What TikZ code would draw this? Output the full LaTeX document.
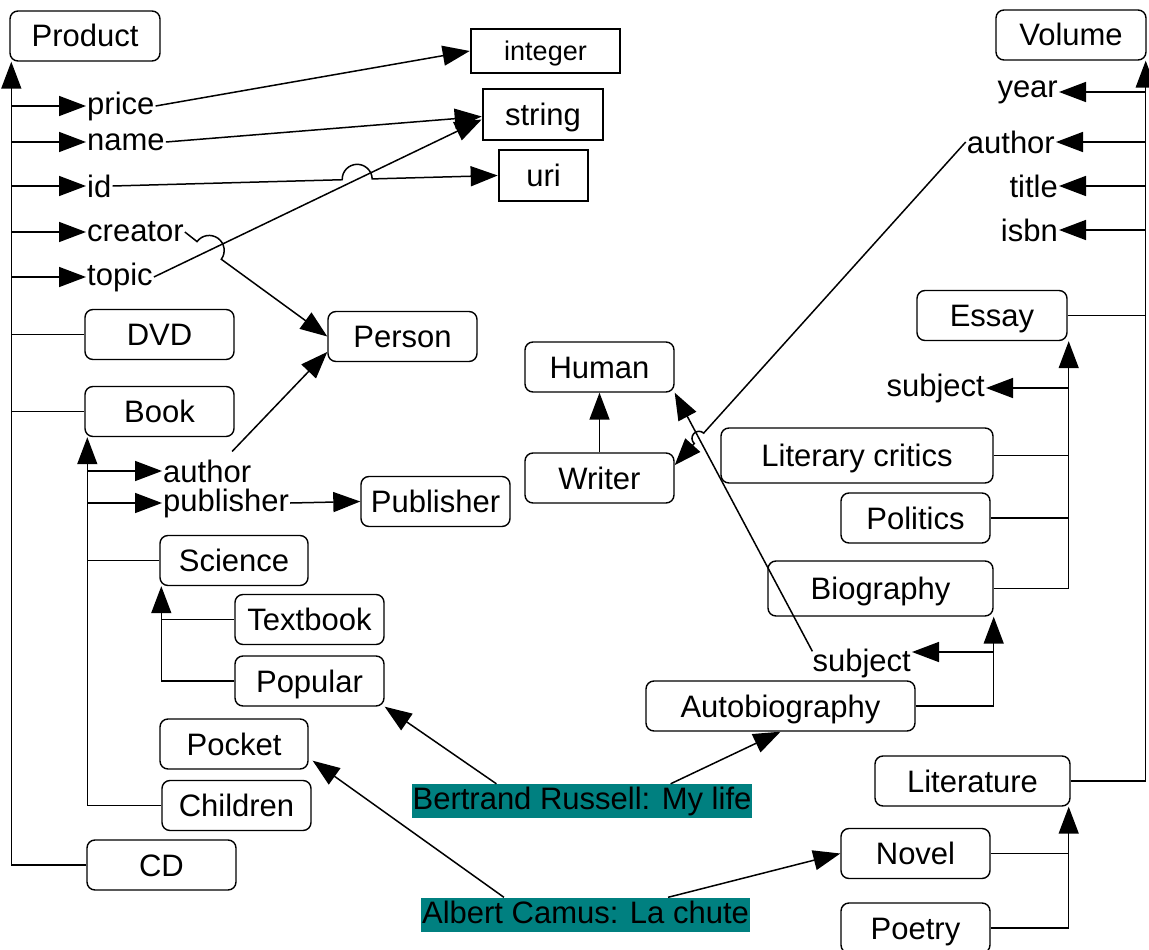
\documentclass[tikz,border=0pt]{standalone}
\usepackage{fontspec}
\setmainfont{Liberation Sans}
\usetikzlibrary{arrows.meta,calc,intersections}
\definecolor{hlteal}{RGB}{0,128,128}

\begin{document}
\begin{tikzpicture}[x=1pt,y=-1pt,
  every node/.style={font=\fontsize{31}{37}\selectfont},
  cls/.style={draw, rounded corners=8pt, line width=1.4pt, minimum width=149pt,
    minimum height=50pt, inner sep=0pt, text height=22pt, text depth=0pt},
  dtype/.style={draw, line width=2.6pt, minimum height=51pt, inner sep=0pt,
    text height=21pt, text depth=0pt},
  prop/.style={inner sep=0pt},
  inst/.style={fill=hlteal, inner xsep=1pt, inner ysep=1.5pt,
    text height=24pt, text depth=7pt},
  link/.style={line width=1.5pt},
  arr/.style={link, -{Triangle[length=27pt,width=20pt]}},
]
\useasboundingbox (0,0) rectangle (1149,950);

% ---- classes ----
\node[cls, minimum width=150pt] (Product) at (85,36) {Product};
\node[cls] (DVD) at (159.5,334.5) {DVD};
\node[cls] (Book) at (159.5,411.5) {Book};
\node[cls] (CD) at (161.5,865) {CD};
\node[cls] (Person) at (402.5,336.5) {Person};
\node[cls] (Publisher) at (435.5,501.5) {Publisher};
\node[cls, minimum width=148pt] (Science) at (234,560.5) {Science};
\node[cls] (Textbook) at (309.5,619.5) {Textbook};
\node[cls] (Popular) at (309.5,681) {Popular};
\node[cls, minimum width=148pt] (Pocket) at (234,744) {Pocket};
\node[cls] (Children) at (236.5,805.5) {Children};
\node[cls] (Human) at (599.5,367) {Human};
\node[cls] (Writer) at (599.5,478) {Writer};
\node[cls, minimum width=150pt] (Volume) at (1071,35) {Volume};
\node[cls, minimum width=150pt] (Essay) at (992,315.5) {Essay};
\node[cls, minimum width=272pt, minimum height=55pt] (LitCrit) at (857,455.5) {Literary critics};
\node[cls] (Politics) at (915.5,518) {Politics};
\node[cls, minimum width=225pt, minimum height=55pt] (Biography) at (880.5,588.5) {Biography};
\node[cls, minimum width=269pt] (Autobio) at (780.5,706) {Autobiography};
\node[cls, minimum width=195pt] (Literature) at (972.5,781) {Literature};
\node[cls] (Novel) at (915.5,853.5) {Novel};
\node[cls] (Poetry) at (915.5,928) {Poetry};

% ---- datatypes ----
\node[dtype, minimum width=149pt, minimum height=44pt, font=\fontsize{27}{32}\selectfont,
  text height=19pt] (integer) at (545.5,51) {integer};
\node[dtype, minimum width=120pt] (string) at (543,114.5) {string};
\node[dtype, minimum width=89pt] (uri) at (543.5,175.5) {uri};

% ---- properties ----
\node[prop, anchor=west] (price) at (87,106) {price};
\node[prop, anchor=west] (name) at (87,142) {name};
\node[prop, anchor=west] (id) at (87,186) {id};
\node[prop, anchor=west] (creator) at (87,232) {creator};
\node[prop, anchor=west] (topic) at (87,277) {topic};
\node[prop, anchor=west] (bauthor) at (163,471) {author};
\node[prop, anchor=west] (publisher) at (163,503) {publisher};
\node[prop, anchor=east] (year) at (1058,92) {year};
\node[prop, anchor=east] (vauthor) at (1055,142) {author};
\node[prop, anchor=east] (title) at (1058,186) {title};
\node[prop, anchor=east] (isbn) at (1058,230) {isbn};
\node[prop, anchor=east] (subj1) at (985,388) {subject};
\node[prop, anchor=east] (subj2) at (911,663) {subject};

% ---- instances ----
\node[inst] (russell) at (582,801) {Bertrand Russell: My life};
\node[inst] (camus) at (585.5,914.5) {Albert Camus: La chute};

% ---- Product hierarchy and properties ----
\coordinate (ptx) at ($(Product.south west)+(2,0)$);
\draw[arr] (CD.west) -| (ptx);
\foreach \p in {price,name,id,creator,topic}
  \draw[arr] (ptx |- \p.west) -- ($(\p.west)+(-1,0)$);
\draw[link] (ptx |- DVD.west) -- (DVD.west);
\draw[link] (ptx |- Book.west) -- (Book.west);

\draw[arr] ($(price.east)+(1,0)$) -- (integer.west);
\draw[arr] ($(name.east)+(1,0)$) -- ($(string.west)+(0,2)$);
\draw[arr, name path=topicline] ($(topic.east)+(1,0)$) -- ($(string.west)+(0,5)$);

% id -> uri, hopping over topic
\path[name path=idpath] (id.east) -- (uri.west);
\path[name intersections={of=topicline and idpath, by=xa}];
\draw[arr] let \p1=($(uri.west)-(id.east)$), \n1={atan2(\y1,\x1)} in
  ($(id.east)+(1,0)$) -- ($(xa)!15pt!(id.east)$)
  arc[start angle=\n1+180, delta angle=-180, radius=15pt] -- (uri.west);

% creator -> Person, hopping over topic
\path[name path=crpath] (creator.east) -- (Person.west);
\path[name intersections={of=topicline and crpath, by=xb}];
\draw[arr] let \p1=($(Person.west)-(creator.east)$), \n1={atan2(\y1,\x1)} in
  ($(creator.east)+(1,0)$) -- ($(xb)!15pt!(creator.east)$)
  arc[start angle=\n1+180, delta angle=-180, radius=15pt] -- (Person.west);

% ---- Book hierarchy ----
\coordinate (btx) at ($(Book.south west)+(3,0)$);
\draw[arr] (Children.west) -| (btx);
\draw[arr] (btx |- bauthor.west) -- ($(bauthor.west)+(-1,0)$);
\draw[arr] (btx |- publisher.west) -- ($(publisher.west)+(-1,0)$);
\draw[link] (btx |- Science.west) -- (Science.west);
\draw[arr] ($(bauthor.north)+(25,-8)$) -- ($(Person.west)!0.6!(Person.south west)$);
\draw[arr] ($(publisher.east)+(1,0)$) -- (Publisher.west);

\coordinate (stx) at ($(Science.south west)+(2,0)$);
\draw[arr] (Popular.west) -| (stx);
\draw[link] (stx |- Textbook.west) -- (Textbook.west);

% ---- Writer / Human ----
\draw[arr] (Writer.north) -- (Human.south);

% ---- Volume hierarchy and properties ----
\coordinate (vtx) at ($(Volume.south east)+(-1,0)$);
\draw[arr] (Literature.east) -| (vtx);
\foreach \p in {year,vauthor,title,isbn}
  \draw[arr] (vtx |- \p.east) -- ($(\p.east)+(1,0)$);
\draw[link] (Essay.east) -- (vtx |- Essay.east);

\coordinate (etx) at ($(Essay.south east)+(1,0)$);
\draw[arr] (Biography.east) -| (etx);
\draw[link] (LitCrit.east) -- (etx |- LitCrit.east);
\draw[link] (Politics.east) -- (etx |- Politics.east);
\draw[arr] (etx |- subj1.east) -- ($(subj1.east)+(1,0)$);

\coordinate (bgx) at (Biography.south east);
\draw[arr] (Autobio.east) -| (bgx);
\coordinate (s2t) at ($(subj2.east)+(1,-11)$);
\draw[arr] (bgx |- s2t) -- (s2t);

\coordinate (ltx) at ($(Literature.south east)+(-2,0)$);
\draw[arr] (Poetry.east) -| (ltx);
\draw[link] (Novel.east) -- (ltx |- Novel.east);

% subject -> Human
\draw[arr, name path=shline] ($(subj2.north west)+(0,3)$) -- (Human.south east);

% author -> Writer, hopping over subject -> Human
\coordinate (wt) at ($(Writer.east)!0.5!(Writer.north east)$);
\path[name path=awpath] (vauthor.west) -- (wt);
\path[name intersections={of=shline and awpath, by=xc}];
\draw[arr] let \p1=($(wt)-(vauthor.west)$), \n1={atan2(\y1,\x1)} in
  ($(vauthor.west)+(-1,0)$) -- ($(xc)!7pt!(vauthor.west)$)
  arc[start angle=\n1+180, delta angle=180, radius=7pt] -- (wt);

% ---- instances ----
\draw[arr] ($(russell.north west)+(85,0)$) -- (Popular.south east);
\draw[arr] ($(russell.north east)+(-82,0)$) -- (Autobio.south);
\draw[arr] ($(camus.north west)+(83,0)$) -- ($(Pocket.east)!0.65!(Pocket.south east)+(4,0)$);
\draw[arr] ($(camus.north east)+(-82,0)$) -- (Novel.west);
\end{tikzpicture}
\end{document}
